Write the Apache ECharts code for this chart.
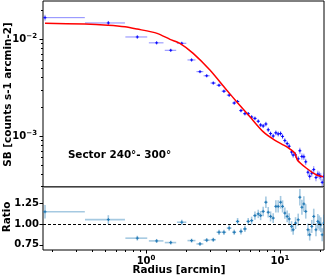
<!DOCTYPE html>
<html>
<head>
<meta charset="utf-8">
<script src="https://cdn.jsdelivr.net/npm/echarts@6/dist/echarts.min.js"></script>
<style>
html,body{margin:0;padding:0;background:#fff;}
#c{width:327px;height:277px;}
</style>
</head>
<body>
<div id="c"></div>
<script>
// ---- data ----
var radius = [0.176,0.523,0.861,1.20,1.53,1.85,2.19,2.53,2.84,3.18,3.51,3.82,4.18,4.56,4.83,5.12,5.48,5.80,6.15,6.51,6.89,7.18,7.50,7.86,8.18,8.52,8.91,9.33,9.71,10.12,10.47,10.89,11.33,11.73,12.22,12.56,13.09,13.7,14.1,14.6,15.1,15.6,16.2,16.7,17.3,17.9,18.6,19.2,19.7,20.2,20.7,21.3];
var radiusErr = [0.173,0.173,0.16,0.15,0.15,0.15,0.15,0.15,0.15,0.15,0.15,0.15,0.17,0.15,0.15,0.15,0.17,0.17,0.17,0.18,0.18,0.18,0.18,0.18,0.18,0.18,0.2,0.2,0.2,0.2,0.2,0.2,0.2,0.22,0.22,0.22,0.25,0.25,0.25,0.25,0.25,0.25,0.25,0.25,0.25,0.25,0.25,0.25,0.25,0.25,0.25,0.25];
var sb = [0.01663,0.01466,0.01051,0.00914,0.00766,0.00905,0.00609,0.00461,0.00418,0.00352,0.00334,0.00290,0.00264,0.00219,0.00227,0.00183,0.00170,0.00170,0.00157,0.00152,0.00142,0.00130,0.00127,0.00133,0.00116,0.00106,0.00100,0.00108,0.00105,0.00106,0.00099,0.000898,0.000836,0.000784,0.000684,0.000637,0.000638,0.000582,0.000705,0.000615,0.000611,0.000542,0.000423,0.000384,0.000414,0.000451,0.000373,0.000405,0.000394,0.000382,0.000333,0.000382];
var ratio = [1.146,1.052,0.829,0.796,0.776,1.02,0.80,0.76,0.805,0.81,0.90,0.90,0.95,0.90,1.03,0.91,0.94,1.03,1.04,1.10,1.12,1.10,1.15,1.26,1.14,1.09,1.07,1.21,1.21,1.26,1.21,1.13,1.09,1.06,0.97,0.93,1.01,1.05,1.32,1.20,1.24,1.15,0.93,0.87,0.97,1.09,0.93,1.03,1.01,0.99,0.87,1.01];
var relErr = [0.07,0.05,0.035,0.03,0.03,0.03,0.03,0.03,0.03,0.03,0.035,0.035,0.035,0.035,0.04,0.04,0.04,0.04,0.045,0.045,0.045,0.05,0.05,0.055,0.055,0.055,0.055,0.06,0.06,0.06,0.06,0.06,0.065,0.065,0.065,0.065,0.07,0.07,0.075,0.075,0.075,0.075,0.08,0.08,0.08,0.085,0.085,0.085,0.09,0.09,0.09,0.1];
var modelR = [0.176,0.350,0.520,0.697,0.857,1.21,1.51,1.79,2.25,3.00,4.00,4.75,5.97,7.49,9.13,11.2,12.93,13.5,15.8,18.8,21.1];
var modelSB = [0.01452,0.01428,0.0139,0.0134,0.0127,0.01145,0.00993,0.00903,0.00712,0.00479,0.00298,0.00226,0.00158,0.00111,0.000909,0.000776,0.000664,0.000566,0.000465,0.000396,0.000380];
var sbMajorTicks = [0.001,0.01];
var sbMinorTicks = [0.0003,0.0004,0.0005,0.0006,0.0007,0.0008,0.0009,0.002,0.003,0.004,0.005,0.006,0.007,0.008,0.009,0.02];
var ratioTicks = [0.75,1.00,1.25];
var radiusMajorTicks = [1,10];
var radiusMinorTicks = [0.2,0.3,0.4,0.5,0.6,0.7,0.8,0.9,2,3,4,5,6,7,8,9,20];
var titleText = 'Sector 240°- 300°';

var X_MIN = 0.170, X_MAX = 21.35;
var Y_MIN = 2.98e-4, Y_MAX = 0.0247;
var R_MIN = 0.687, R_MAX = 1.443;

var chart = echarts.init(document.getElementById('c'), null, {renderer:'canvas'});
var FONT = 'DejaVu Sans';

function pow10Label(v){
  var e = Math.round(Math.log10(v));
  var sup = String(e).replace('-', '\u2212');
  return '{b|10}{s|' + sup + '}';
}

function makeErr(stroke, lw, center, armColor) {
  return function (params, api) {
    var x = api.value(0), y = api.value(1), dx = api.value(2), dy = api.value(3);
    var cs = params.coordSys;
    var c = api.coord([x, y]);
    var l = api.coord([Math.max(x - dx, 1e-6), y]);
    var r = api.coord([x + dx, y]);
    var t = api.coord([x, y + dy]);
    var b = api.coord([x, y - dy]);
    function cx(v){ return Math.max(cs.x, Math.min(cs.x + cs.width, v)); }
    function cy(v){ return Math.max(cs.y, Math.min(cs.y + cs.height, v)); }
    var ch = [
      {type:'line', shape:{x1:cx(l[0]), y1:c[1], x2:cx(r[0]), y2:c[1]}, style:{stroke:stroke, lineWidth:lw}},
      {type:'line', shape:{x1:c[0], y1:cy(t[1]), x2:c[0], y2:cy(b[1])}, style:{stroke:stroke, lineWidth:lw}}
    ];
    if (center) {
      ch.push({type:'line', shape:{x1:c[0]-center, y1:c[1], x2:c[0]+center, y2:c[1]}, style:{stroke:armColor, lineWidth:1}});
      ch.push({type:'line', shape:{x1:c[0], y1:c[1]-center, x2:c[0], y2:c[1]+center}, style:{stroke:armColor, lineWidth:1}});
    }
    return {type:'group', children:ch};
  };
}

var sbData = radius.map(function(r,i){ return [r, sb[i], radiusErr[i], sb[i]*relErr[i]]; });
var ratioData = radius.map(function(r,i){ return [r, ratio[i], radiusErr[i], ratio[i]*relErr[i]]; });
var modelData = modelR.map(function(r,i){ return [r, modelSB[i]]; });

var labelStyle = {color:'#000', fontFamily:FONT, fontWeight:'bold', fontSize:10};

var option = {
  animation:false,
  backgroundColor:'#fff',
  grid:[
    {left:43, top:1, width:281, height:186, show:true, borderColor:'#000', borderWidth:1, backgroundColor:'transparent', outerBoundsMode:'none', containLabel:false},
    {left:43, top:187, width:281, height:63, show:true, borderColor:'#000', borderWidth:1, backgroundColor:'transparent', outerBoundsMode:'none', containLabel:false}
  ],
  xAxis:[
    {type:'log', gridIndex:0, min:X_MIN, max:X_MAX, position:'bottom', z:10,
     axisLine:{show:true, lineStyle:{color:'#8c8c8c', width:1}}, axisTick:{show:false}, axisLabel:{show:false}, splitLine:{show:false}, minorTick:{show:false}},
    {type:'log', gridIndex:1, min:X_MIN, max:X_MAX, position:'bottom',
     axisLine:{show:false}, axisTick:{show:true, length:3.5, lineStyle:{color:'#000', width:1}, customValues:radiusMajorTicks},
     axisLabel:{show:true, margin:5, customValues:radiusMajorTicks, formatter:function(v){return pow10Label(v);},
       rich:{b:{fontFamily:FONT, fontSize:10, color:'#000', fontWeight:'bold'}, s:{fontFamily:FONT, fontSize:7, color:'#000', fontWeight:'bold', verticalAlign:'top', padding:[0,0,6,0]}}},
     splitLine:{show:false}},
    {type:'log', gridIndex:1, min:X_MIN, max:X_MAX, position:'bottom',
     axisLine:{show:false}, axisTick:{show:true, length:2, lineStyle:{color:'#000', width:1}, customValues:radiusMinorTicks},
     axisLabel:{show:false}, splitLine:{show:false}}
  ],
  yAxis:[
    {type:'log', gridIndex:0, min:Y_MIN, max:Y_MAX, position:'left',
     axisLine:{show:false}, axisTick:{show:true, length:3.5, lineStyle:{color:'#000', width:1}, customValues:sbMajorTicks},
     axisLabel:{show:true, margin:6, customValues:sbMajorTicks, formatter:function(v){return pow10Label(v);},
       rich:{b:{fontFamily:FONT, fontSize:10, color:'#000', fontWeight:'bold'}, s:{fontFamily:FONT, fontSize:7, color:'#000', fontWeight:'bold', padding:[0,0,6,0]}}},
     splitLine:{show:false}},
    {type:'value', gridIndex:1, min:R_MIN, max:R_MAX, position:'left',
     axisLine:{show:false}, axisTick:{show:true, length:3.5, lineStyle:{color:'#000', width:1}, customValues:ratioTicks},
     axisLabel:Object.assign({show:true, margin:4, customValues:ratioTicks, formatter:function(v){return v.toFixed(2);}}, labelStyle),
     splitLine:{show:false}},
    {type:'log', gridIndex:0, min:Y_MIN, max:Y_MAX, position:'left',
     axisLine:{show:false}, axisTick:{show:true, length:2, lineStyle:{color:'#000', width:1}, customValues:sbMinorTicks},
     axisLabel:{show:false}, splitLine:{show:false}}
  ],
  graphic:[
    {type:'text', x:8.5, y:94.5, rotation:Math.PI/2, style:{text:'SB [counts s-1 arcmin-2]', fill:'#000', font:'bold 10.4px "DejaVu Sans"', align:'center', verticalAlign:'middle'}},
    {type:'text', x:7.5, y:217, rotation:Math.PI/2, style:{text:'Ratio', fill:'#000', font:'bold 10.4px "DejaVu Sans"', align:'center', verticalAlign:'middle'}},
    {type:'text', x:179, y:270.5, style:{text:'Radius [arcmin]', fill:'#000', font:'bold 10.4px "DejaVu Sans"', align:'center', verticalAlign:'middle'}},
    {type:'text', x:119.5, y:155, style:{text:titleText, fill:'#000', font:'bold 10.4px "DejaVu Sans"', align:'center', verticalAlign:'middle'}}
  ],
  series:[
    {type:'custom', name:'data', xAxisIndex:0, yAxisIndex:0, clip:true, z:2,
     renderItem:makeErr('rgba(40,40,255,0.55)', 1, 1.5, 'rgba(0,0,255,0.9)'), encode:{x:0, y:1}, data:sbData},
    {type:'line', name:'model', xAxisIndex:0, yAxisIndex:0, data:modelData, showSymbol:false, symbol:'none', smooth:0.25, clip:true, z:3,
     lineStyle:{color:'#ff0000', width:1.5}},
    {type:'custom', name:'ratio', xAxisIndex:1, yAxisIndex:1, clip:true, z:2,
     renderItem:makeErr('rgba(31,119,180,0.4)', 1.6, 1.5, 'rgba(31,119,180,0.95)'), encode:{x:0, y:1}, data:ratioData,
     markLine:{silent:true, symbol:'none', z:4, label:{show:false}, lineStyle:{color:'#000', type:[3,2], width:1}, data:[{yAxis:1}]}}
  ]
};
chart.setOption(option);
</script>
</body>
</html>
